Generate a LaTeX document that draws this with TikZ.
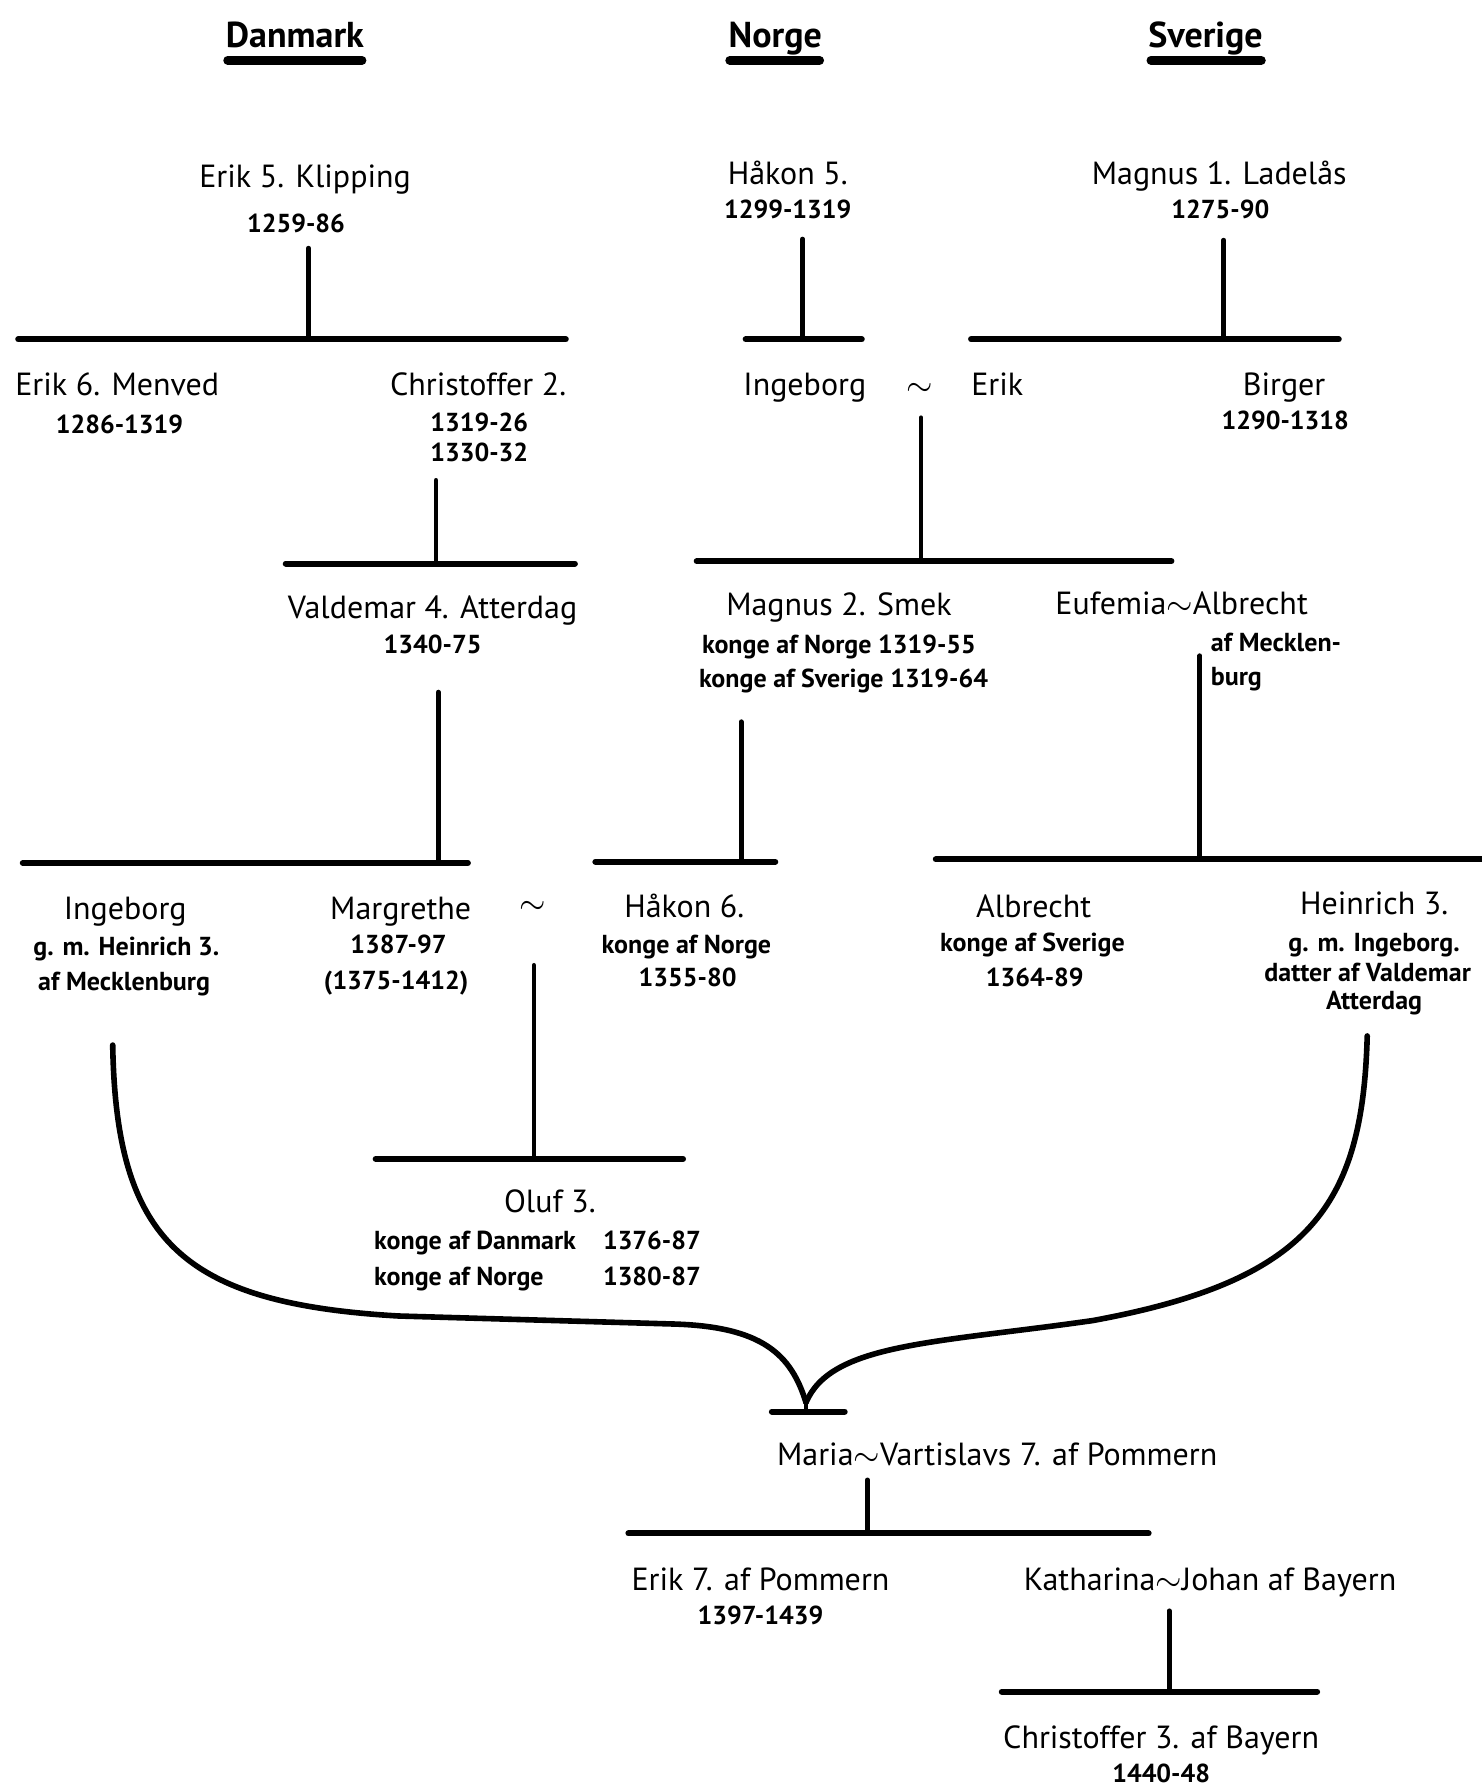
\documentclass[tikz,border=0pt]{standalone}
\usepackage{fontspec}
\setmainfont{PT Sans}
\tikzset{
  land/.style={font=\bfseries\fontsize{9}{10}\selectfont, anchor=base},
  person/.style={font=\fontsize{8}{9}\selectfont, anchor=base},
  years/.style={font=\bfseries\fontsize{6.5}{8}\selectfont, anchor=base},
  bar/.style={line width=1.5pt, line cap=round},
  stem/.style={line width=1.2pt, line cap=round},
  uline/.style={line width=2.2pt, line cap=round},
  twig/.style={line width=1.4pt, line cap=round},
}
\begin{document}
\begin{tikzpicture}[x=1cm,y=-1cm]
  \useasboundingbox (0,0) rectangle (13.01,15.68);
  % headings
  \node[land] (dk) at (2.59,0.42) {Danmark};
  \node[land] (no) at (6.81,0.42) {Norge};
  \node[land] (se) at (10.59,0.42) {Sverige};
  \draw[uline] (2.00,0.53)--(3.18,0.53);
  \draw[uline] (6.41,0.53)--(7.20,0.53);
  \draw[uline] (10.11,0.53)--(11.08,0.53);
  % first kings
  \node[person] (erik5) at (2.68,1.65) {Erik 5. Klipping};
  \node[years] (erik5y) at (2.60,2.04) {1259-86};
  \node[person] (hakon5) at (6.92,1.62) {Håkon 5.};
  \node[years] (hakon5y) at (6.92,1.92) {1299-1319};
  \node[person] (magnus1) at (10.71,1.62) {Magnus 1. Ladelås};
  \node[years] (magnus1y) at (10.72,1.92) {1275-90};
  % stems and bars
  \coordinate (s1) at (2.71,2.18);
  \coordinate (b1l) at (0.16,2.98);
  \coordinate (b1r) at (4.97,2.98);
  \coordinate (s2) at (7.05,2.10);
  \coordinate (b2l) at (6.55,2.98);
  \coordinate (b2r) at (7.57,2.98);
  \coordinate (s3) at (10.75,2.11);
  \coordinate (b3l) at (8.53,2.98);
  \coordinate (b3r) at (11.76,2.98);
  \draw[stem] (s1)--(s1 |- b1l);
  \draw[stem] (s2)--(s2 |- b2l);
  \draw[stem] (s3)--(s3 |- b3l);
  \draw[bar] (b1l)--(b1r);
  \draw[bar] (b2l)--(b2r);
  \draw[bar] (b3l)--(b3r);
  % second row
  \node[person] (erik6) at (1.03,3.47) {Erik 6. Menved};
  \node[years] (erik6y) at (1.05,3.81) {1286-1319};
  \node[person] (chr2) at (4.20,3.47) {Christoffer 2.};
  \node[years] (chr2y) at (4.21,3.79) {1319-26};
  \node[years] (chr2z) at (4.21,4.05) {1330-32};
  \node[person] (ing1) at (7.07,3.47) {Ingeborg};
  \node[person, anchor=center] (tilde1) at (8.08,3.42) {$\sim$};
  \node[person] (erik) at (8.76,3.47) {Erik};
  \node[person] (birger) at (11.28,3.47) {Birger};
  \node[years] (birgery) at (11.29,3.77) {1290-1318};
  \coordinate (s4) at (3.83,4.22);
  \coordinate (b4l) at (2.51,4.95);
  \coordinate (b4r) at (5.05,4.95);
  \coordinate (s5) at (8.09,3.67);
  \coordinate (b5l) at (6.12,4.93);
  \coordinate (b5r) at (10.29,4.93);
  \draw[stem] (s4)--(s4 |- b4l);
  \draw[stem] (s5)--(s5 |- b5l);
  \draw[bar] (b4l)--(b4r);
  \draw[bar] (b5l)--(b5r);
  % third row
  \node[person] (valdemar) at (3.80,5.43) {Valdemar 4. Atterdag};
  \node[years] (valdemary) at (3.80,5.74) {1340-75};
  \node[person] (magnus2) at (7.37,5.41) {Magnus 2. Smek};
  \node[years] (magnus2a) at (7.37,5.74) {konge af Norge 1319-55};
  \node[years] (magnus2b) at (7.41,6.04) {konge af Sverige 1319-64};
  \node[person] (eufemia) at (10.38,5.40) {Eufemia$\sim$Albrecht};
  \node[years, anchor=base west, inner sep=0] (meck1) at (10.63,5.72) {af Mecklen-};
  \node[years, anchor=base west, inner sep=0] (meck2) at (10.63,6.02) {burg};
  \coordinate (s6) at (3.85,6.08);
  \coordinate (b6l) at (0.20,7.58);
  \coordinate (b6r) at (4.11,7.58);
  \coordinate (s7) at (6.51,6.34);
  \coordinate (b7l) at (5.23,7.57);
  \coordinate (b7r) at (6.81,7.57);
  \coordinate (s8) at (10.54,5.76);
  \coordinate (b8l) at (8.22,7.55);
  \coordinate (b8r) at (13.05,7.55);
  \draw[stem] (s6)--(s6 |- b6l);
  \draw[stem] (s7)--(s7 |- b7l);
  \draw[stem] (s8)--(s8 |- b8l);
  \draw[bar] (b6l)--(b6r);
  \draw[bar] (b7l)--(b7r);
  \draw[bar] (b8l)--(b8r);
  % fourth row
  \node[person] (ing2) at (1.10,8.08) {Ingeborg};
  \node[years] (ing2a) at (1.11,8.39) {g. m. Heinrich 3.};
  \node[years] (ing2b) at (1.09,8.70) {af Mecklenburg};
  \node[person] (marg) at (3.52,8.08) {Margrethe};
  \node[years] (margy) at (3.50,8.38) {1387-97};
  \node[years] (margz) at (3.48,8.69) {(1375-1412)};
  \node[person, anchor=center] (tilde2) at (4.68,7.97) {$\sim$};
  \node[person] (hakon6) at (6.01,8.06) {Håkon 6.};
  \node[years] (hakon6a) at (6.03,8.38) {konge af Norge};
  \node[years] (hakon6y) at (6.04,8.67) {1355-80};
  \node[person] (albrecht) at (9.08,8.06) {Albrecht};
  \node[years] (albrechta) at (9.07,8.36) {konge af Sverige};
  \node[years] (albrechty) at (9.09,8.67) {1364-89};
  \node[person] (heinrich) at (12.07,8.03) {Heinrich 3.};
  \node[years] (heinricha) at (12.07,8.36) {g. m. Ingeborg.};
  \node[years, anchor=base west, inner sep=0] (heinrichb) at (11.10,8.62) {datter af Valdemar};
  \node[years] (heinrichc) at (12.07,8.87) {Atterdag};
  \coordinate (s9) at (4.69,8.48);
  \coordinate (b9l) at (3.30,10.18);
  \coordinate (b9r) at (6.00,10.18);
  \draw[stem] (s9)--(s9 |- b9l);
  \draw[bar] (b9l)--(b9r);
  % Oluf
  \node[person] (oluf) at (4.83,10.65) {Oluf 3.};
  \node[years, anchor=base west, inner sep=0, align=left] (olufk) at (3.28,11.29)
    {\makebox[2.01cm][l]{konge af Danmark}1376-87\\[1pt]\makebox[2.01cm][l]{konge af Norge}1380-87};
  % the two branches meeting
  \coordinate (c1) at (0.99,9.18);
  \coordinate (c2) at (12.01,9.10);
  \coordinate (v) at (7.08,12.32);
  \coordinate (b10l) at (6.78,12.40);
  \coordinate (b10r) at (7.42,12.40);
  \draw[twig] (c1) .. controls (1.02,10.9) and (1.6,11.45) .. (3.5,11.56)
    -- (5.9,11.63) .. controls (6.7,11.65) and (6.95,11.9) .. (v);
  \draw[twig] (c2) .. controls (11.97,10.6) and (11.5,11.25) .. (9.6,11.6)
    .. controls (8.2,11.8) and (7.3,11.8) .. (v);
  \draw[stem] (v)--(v |- b10l);
  \draw[bar] (b10l)--(b10r);
  % last rows
  \node[person] (maria) at (8.76,12.87) {Maria$\sim$Vartislavs 7. af Pommern};
  \coordinate (s10) at (7.62,13.00);
  \coordinate (b11l) at (5.52,13.47);
  \coordinate (b11r) at (10.09,13.47);
  \draw[stem] (s10)--(s10 |- b11l);
  \draw[bar] (b11l)--(b11r);
  \node[person] (erik7) at (6.68,13.97) {Erik 7. af Pommern};
  \node[years] (erik7y) at (6.68,14.27) {1397-1439};
  \node[person] (kath) at (10.63,13.97) {Katharina$\sim$Johan af Bayern};
  \coordinate (s11) at (10.27,14.15);
  \coordinate (b12l) at (8.80,14.86);
  \coordinate (b12r) at (11.57,14.86);
  \draw[stem] (s11)--(s11 |- b12l);
  \draw[bar] (b12l)--(b12r);
  \node[person] (chr3) at (10.20,15.36) {Christoffer 3. af Bayern};
  \node[years] (chr3y) at (10.20,15.66) {1440-48};
\end{tikzpicture}
\end{document}
